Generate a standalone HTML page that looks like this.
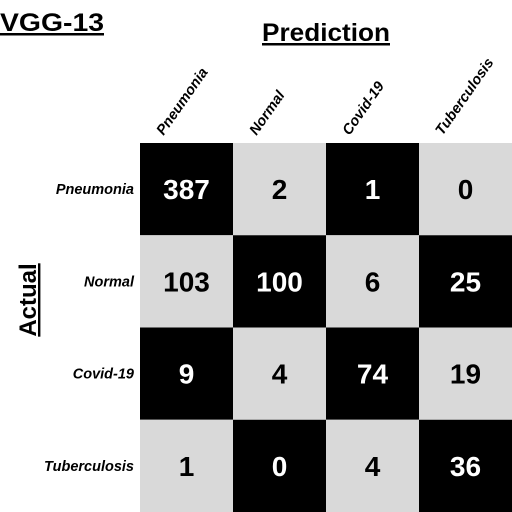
<!DOCTYPE html>
<html><head><style>
body{margin:0;background:#fff;}
svg{display:block;font-family:"Liberation Sans",sans-serif;}
</style></head><body>
<svg width="512" height="512">
<text x="0" y="31" font-size="25" font-weight="bold" text-decoration="underline" textLength="104" lengthAdjust="spacingAndGlyphs">VGG-13</text>
<text x="262" y="41" font-size="25" font-weight="bold" text-decoration="underline" textLength="128" lengthAdjust="spacingAndGlyphs">Prediction</text>
<text transform="translate(36,300) rotate(-90)" font-size="24" font-weight="bold" text-anchor="middle" text-decoration="underline">Actual</text>
<g id="g"></g>
</svg>
<script>
const predLabels=["Pneumonia","Normal","Covid-19","Tuberculosis"];
const actualLabels=["Pneumonia","Normal","Covid-19","Tuberculosis"];
const row0=[387,2,1,0];
const row1=[103,100,6,25];
const row2=[9,4,74,19];
const row3=[1,0,4,36];
const values=[row0,row1,row2,row3];
const g=document.getElementById('g');
const NS="http://www.w3.org/2000/svg";
const x0=140,y0=143,cw=93,ch=92.25;
const xs=i=>x0+i*cw, ys=j=>y0+j*ch;
function mk(t,a){const e=document.createElementNS(NS,t);for(const k in a)e.setAttribute(k,a[k]);g.appendChild(e);return e;}
values.forEach((row,r)=>{
  row.forEach((v,c)=>{
    const dark=(r+c)%2===0;
    const rect=mk('rect',{x:xs(c),y:ys(r),width:cw,height:ch,fill:dark?'#000':'#d9d9d9'});
    
    
    const t=mk('text',{x:xs(c)+cw/2,y:ys(r)+ch/2+10,'font-size':28,'font-weight':'bold','text-anchor':'middle',fill:dark?'#fff':'#000'});
    t.textContent=v;
    
    
  });
});
predLabels.forEach((l,i)=>{
  const cx=xs(i)+cw/2-23;
  const t=mk('text',{transform:'translate('+cx+',136) rotate(-55)','font-size':14.5,'font-weight':'bold','font-style':'italic'});
  t.textContent=l;
  
  
});
actualLabels.forEach((l,j)=>{
  const t=mk('text',{x:134,y:ys(j)+ch/2+5,'font-size':14.5,'font-weight':'bold','font-style':'italic','text-anchor':'end'});
  t.textContent=l;
  
  
});
</script>
</body></html>
